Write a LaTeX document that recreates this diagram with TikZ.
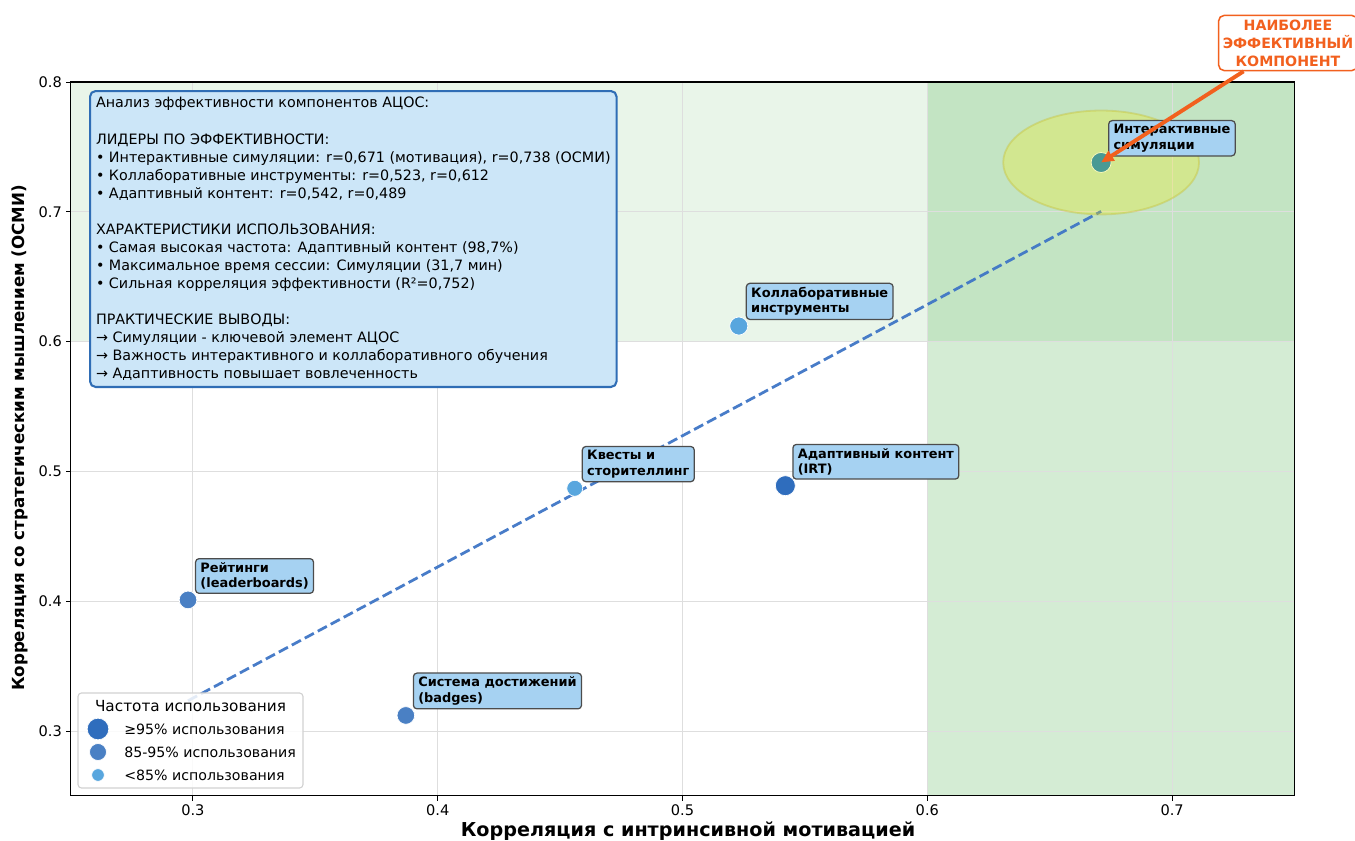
\documentclass[tikz,border=0pt]{standalone}
\usepackage{fontspec}
\setmainfont{DejaVu Sans}
\usepackage{xcolor}
\usetikzlibrary{arrows.meta,calc,positioning}

\definecolor{bandgreen}{HTML}{2CA02C}
\definecolor{ptdark}{HTML}{2F6DBD}
\definecolor{ptmid}{HTML}{4A80C4}
\definecolor{ptlight}{HTML}{58A6DE}
\definecolor{ptsim}{HTML}{0A7CC8}
\definecolor{labfill}{HTML}{A6D2F2}
\definecolor{infofill}{HTML}{CCE6F8}
\definecolor{infoedge}{HTML}{2F6DB5}
\definecolor{trend}{HTML}{3F76C6}
\definecolor{callorange}{HTML}{F2601E}

\begin{document}
\begin{tikzpicture}[x=0.72pt,y=-0.72pt]
  \useasboundingbox (0,0) rectangle (1355,841);
  \fill[white] (0,0) rectangle (1355,841);
  \tikzset{
    GridStyle/.style   = {black!13, line width=0.6pt},
    TickLabel/.style   = {font=\fontsize{10.5}{12}\selectfont, inner sep=0pt},
    AxisLabel/.style   = {font=\fontsize{12}{14}\selectfont\bfseries, inner sep=0pt},
    TrendStyle/.style  = {trend, line width=2pt, dash pattern=on 7.4pt off 3.2pt, opacity=0.95},
    DotStyle/.style    = {circle, draw=white, line width=0.5pt, inner sep=0pt, minimum size=#1},
    LabelStyle/.style  = {draw=black!70, line width=0.9pt, rounded corners=2.5pt,
                          fill=labfill, inner xsep=3.5pt, inner ysep=2.8pt, align=left,
                          anchor=south west, font=\fontsize{9.3}{11}\selectfont\bfseries},
    InfoStyle/.style   = {draw=infoedge, line width=1.5pt, rounded corners=4pt, fill=infofill,
                          inner xsep=4.3pt, inner ysep=4.5pt, align=left,
                          font=\fontsize{10.3}{13}\selectfont},
    LegendText/.style  = {font=\fontsize{10.2}{12}\selectfont, inner sep=0pt, anchor=west},
    CalloutStyle/.style= {draw=callorange, line width=1.1pt, rounded corners=4pt, fill=white,
                          text=callorange, align=center, inner xsep=3pt, inner ysep=3pt,
                          font=\fontsize{10.2}{13}\selectfont\bfseries}
  }

  % data area
  \begin{scope}[x=1762.56pt, y=934.56pt, shift={(-389.88pt,-806.69pt)}]
    % bands
    \fill[bandgreen, opacity=0.1] (0.25,0.6) rectangle (0.75,0.8);
    \fill[bandgreen, opacity=0.2] (0.6,0.25) rectangle (0.75,0.8);

    % grid and ticks
    \foreach \u in {0.3,0.4,0.5,0.6,0.7} {
      \draw[GridStyle] (\u,0.25) -- (\u,0.8);
      \draw[line width=0.6pt] (\u,0.25) -- ++(0pt,-3.5pt);
      \node[TickLabel, anchor=north] (xt\u) at ([yshift=-6pt]\u,0.25) {\u};
    }
    \foreach \v in {0.3,0.4,0.5,0.6,0.7,0.8} {
      \draw[GridStyle] (0.25,\v) -- (0.75,\v);
      \draw[line width=0.6pt] (0.25,\v) -- ++(-3.5pt,0pt);
      \node[TickLabel, anchor=east] (yt\v) at ([xshift=-6pt]0.25,\v) {\v};
    }

    % trend
    \coordinate (rA) at (0.298,0.3233);
    \coordinate (rB) at (0.671,0.7003);
    \draw[TrendStyle] (rA) -- (rB);

    % points
    \node[DotStyle=14.4pt, fill=ptsim]   (mSim) at (0.671,0.738) {};
    \node[DotStyle=13pt,   fill=ptlight] (mCol) at (0.523,0.612) {};
    \node[DotStyle=14.4pt, fill=ptdark]  (mAda) at (0.542,0.489) {};
    \node[DotStyle=11.5pt, fill=ptlight] (mQst) at (0.456,0.487) {};
    \node[DotStyle=12.7pt, fill=ptmid]   (mRat) at (0.298,0.401) {};
    \node[DotStyle=12.7pt, fill=ptmid]   (mBdg) at (0.387,0.312) {};

    % highlight
    \draw[yellow!75!black, line width=1.3pt, draw opacity=0.4, fill=yellow, fill opacity=0.26]
      (mSim.center) ellipse [x radius=70.5pt, y radius=37.4pt];

    % labels
    \node[LabelStyle] (lSim) at ([xshift=5pt,yshift=4.3pt]mSim.center) {Интерактивные\\симуляции};
    \node[LabelStyle] (lCol) at ([xshift=5pt,yshift=4.3pt]mCol.center) {Коллаборативные\\инструменты};
    \node[LabelStyle] (lAda) at ([xshift=5pt,yshift=4.3pt]mAda.center) {Адаптивный контент\\(IRT)};
    \node[LabelStyle] (lQst) at ([xshift=5pt,yshift=4.3pt]mQst.center) {Квесты и\\сторителлинг};
    \node[LabelStyle] (lRat) at ([xshift=5pt,yshift=4.3pt]mRat.center) {Рейтинги\\(leaderboards)};
    \node[LabelStyle] (lBdg) at ([xshift=5pt,yshift=4.3pt]mBdg.center) {Система достижений\\(badges)};

    % frame
    \draw[line width=0.8pt] (0.25,0.25) rectangle (0.75,0.8);
  \end{scope}

  % info box
  \node[InfoStyle, anchor=north west] (info) at (89,90) {%
    Анализ эффективности компонентов АЦОС:\\[13pt]
    ЛИДЕРЫ ПО ЭФФЕКТИВНОСТИ:\\
    • Интерактивные симуляции: r=0,671 (мотивация), r=0,738 (ОСМИ)\\
    • Коллаборативные инструменты: r=0,523, r=0,612\\
    • Адаптивный контент: r=0,542, r=0,489\\[13pt]
    ХАРАКТЕРИСТИКИ ИСПОЛЬЗОВАНИЯ:\\
    • Самая высокая частота: Адаптивный контент (98,7\%)\\
    • Максимальное время сессии: Симуляции (31,7 мин)\\
    • Сильная корреляция эффективности (R²=0,752)\\[13pt]
    ПРАКТИЧЕСКИЕ ВЫВОДЫ:\\
    → Симуляции - ключевой элемент АЦОС\\
    → Важность интерактивного и коллаборативного обучения\\
    → Адаптивность повышает вовлеченность};

  % legend
  \draw[black!18, line width=0.8pt, rounded corners=2.5pt, fill=white, fill opacity=0.85]
    (78,693) rectangle (303,788);
  \node[LegendText, anchor=center, font=\fontsize{11}{13}\selectfont] (kTitle) at (190.5,706) {Частота использования};
  \node[DotStyle=15.6pt, fill=ptdark]  (kHi)  at (98,729) {};
  \node[DotStyle=12.2pt, fill=ptmid]   (kMid) at (98,752) {};
  \node[DotStyle=9.1pt,  fill=ptlight] (kLo)  at (98,775) {};
  \node[LegendText] (tHi)  at (124,729) {≥95\% использования};
  \node[LegendText] (tMid) at (124,752) {85-95\% использования};
  \node[LegendText] (tLo)  at (124,775) {<85\% использования};

  % callout
  \node[CalloutStyle] (callout) at (1288,43) {НАИБОЛЕЕ\\ЭФФЕКТИВНЫЙ\\КОМПОНЕНТ};
  \draw[callorange, line width=2.8pt, -{Triangle[length=9pt,width=8pt]}]
    ([xshift=-32pt]callout.south) -- (mSim.center);

  % axis labels
  \node[AxisLabel, font=\fontsize{13.8}{16}\selectfont\bfseries] (xlab) at (688,831) {Корреляция с интринсивной мотивацией};
  \node[AxisLabel, rotate=90] (ylab) at (20,438) {Корреляция со стратегическим мышлением (ОСМИ)};
\end{tikzpicture}
\end{document}
